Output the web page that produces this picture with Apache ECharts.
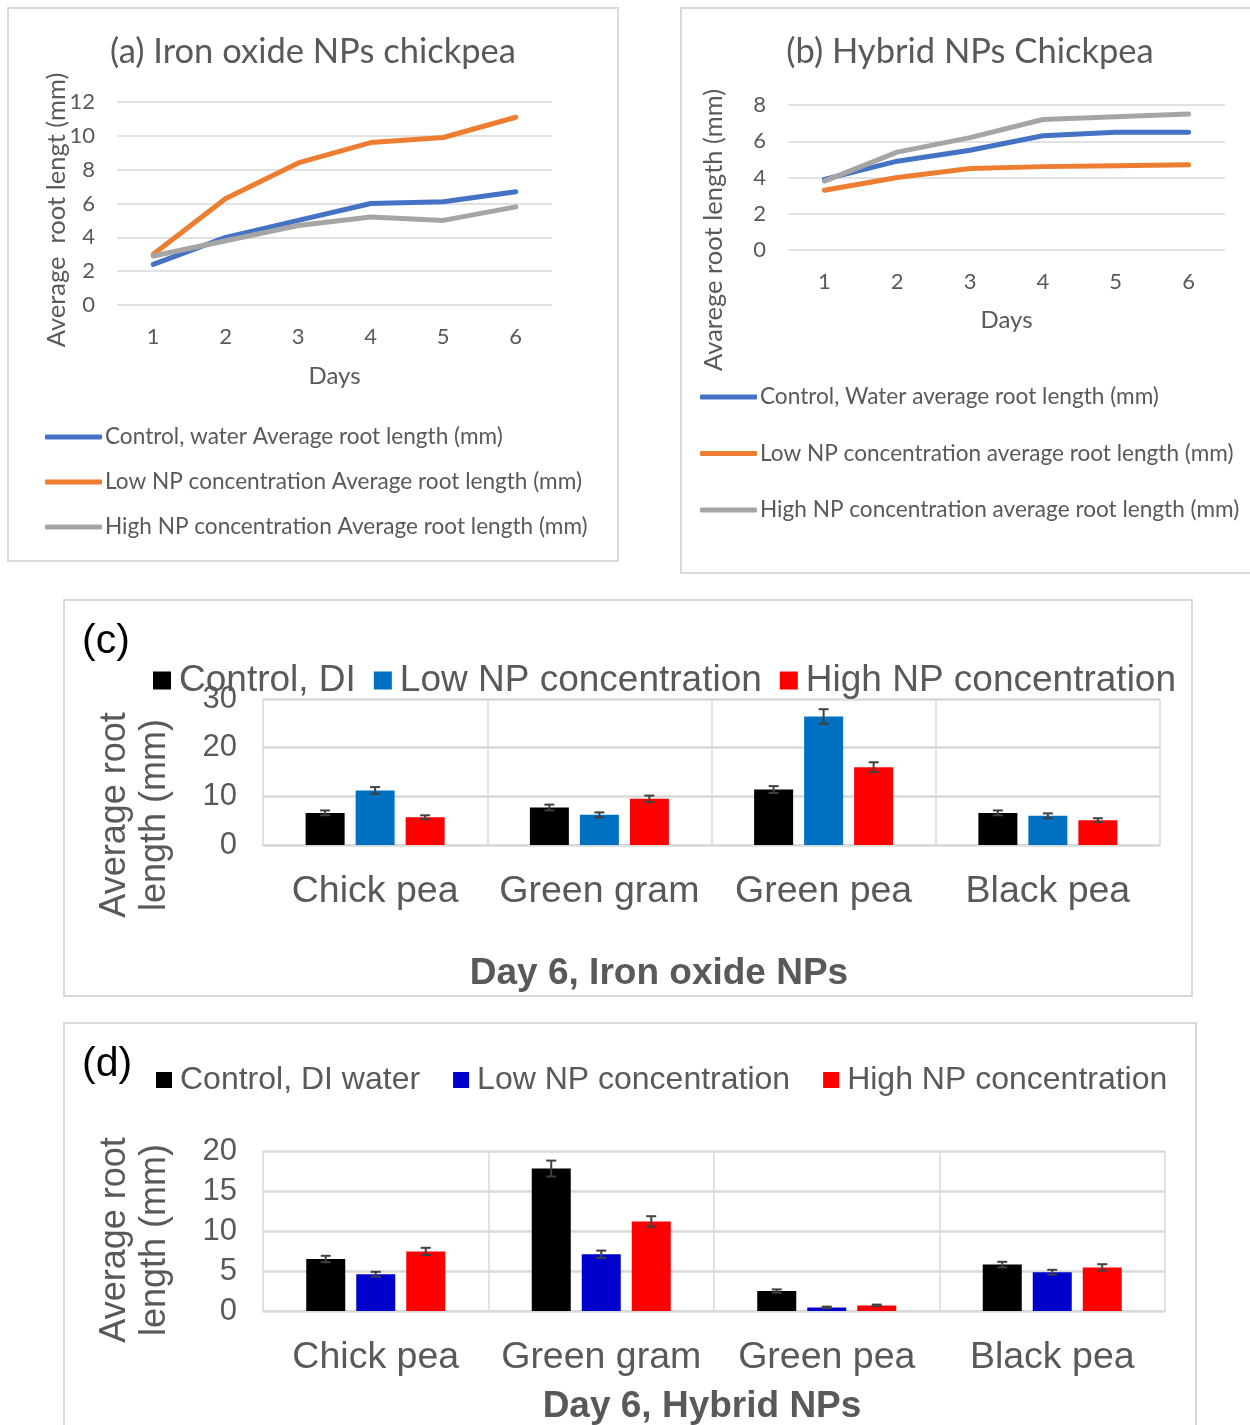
<!DOCTYPE html>
<html lang="en">
<head>
<meta charset="UTF-8">
<title>Root length charts</title>
<script src="https://cdn.jsdelivr.net/npm/echarts@6/dist/echarts.min.js"></script>
<style>
  body { margin: 0; background: #fff; width: 1250px; height: 1425px; position: relative; overflow: hidden; }
  .panel { position: absolute; border: 2px solid #d9d9d9; box-sizing: border-box; }
</style>
</head>
<body>
<div id="pa" class="panel" style="left:7px;top:7px;width:612px;height:555px"></div>
<div id="pb" class="panel" style="left:680px;top:7px;width:580px;height:567px"></div>
<div id="pc" class="panel" style="left:63px;top:599px;width:1130px;height:398px"></div>
<div id="pd" class="panel" style="left:63px;top:1022px;width:1134px;height:420px"></div>
<script>
// data
const days = ['1', '2', '3', '4', '5', '6'];
const aControl = [2.4, 4.0, 5.0, 6.0, 6.1, 6.7];
const aLow = [3.0, 6.3, 8.4, 9.6, 9.9, 11.1];
const aHigh = [2.9, 3.8, 4.7, 5.2, 5.0, 5.8];
const bControl = [3.9, 4.9, 5.5, 6.3, 6.5, 6.5];
const bLow = [3.3, 4.0, 4.5, 4.6, 4.65, 4.7];
const bHigh = [3.8, 5.4, 6.2, 7.2, 7.35, 7.5];

const plants = ['Chick pea', 'Green gram', 'Green pea', 'Black pea'];
const cControl = [6.6, 7.7, 11.4, 6.6];
const cControlErr = [0.5, 0.6, 0.7, 0.5];
const cLow = [11.2, 6.2, 26.4, 6.0];
const cLowErr = [0.7, 0.5, 1.5, 0.5];
const cHigh = [5.7, 9.5, 16.0, 5.1];
const cHighErr = [0.4, 0.65, 1.0, 0.4];

const dControl = [6.5, 17.8, 2.5, 5.8];
const dControlErr = [0.4, 1.0, 0.2, 0.35];
const dLow = [4.6, 7.1, 0.45, 4.85];
const dLowErr = [0.3, 0.45, 0.1, 0.3];
const dHigh = [7.45, 11.2, 0.7, 5.45];
const dHighErr = [0.45, 0.65, 0.1, 0.4];

const grey = '#595959';
const gridCol = '#d9d9d9';
const cal = 'Lato';
const ari = '"Liberation Sans", Arial, sans-serif';

function lineChart(el, o) {
  const chart = echarts.init(document.getElementById(el));
  chart.setOption({
    animation: false,
    title: { text: o.title, left: 'center', top: 25, padding: 0,
      textStyle: { fontFamily: cal, fontSize: 34.5, fontWeight: 'normal', color: grey } },
    legend: {
      orient: 'vertical', left: o.legLeft, top: o.legTop, padding: 0, itemGap: o.legGap,
      itemWidth: 57, itemHeight: 5, icon: 'roundRect',
      textStyle: { fontFamily: cal, fontSize: 22.6, color: grey, lineHeight: 24, padding: [0, 0, 0, -2] }
    },
    grid: o.grid,
    xAxis: {
      type: 'category', data: days,
      name: 'Days', nameLocation: 'middle', nameGap: o.nameGap,
      nameTextStyle: { fontFamily: cal, fontSize: 24, color: grey },
      axisLine: { show: false }, axisTick: { show: false },
      axisLabel: { fontFamily: cal, fontSize: 22, color: grey, margin: 21 }
    },
    yAxis: {
      type: 'value', min: 0, max: o.max, interval: 2,
      axisLabel: { fontFamily: cal, fontSize: 22, color: grey, margin: 22 },
      splitLine: { lineStyle: { color: gridCol, width: 1.5 } }
    },
    graphic: [{
      type: 'text', x: o.yName[0], y: o.yName[1], rotation: Math.PI / 2,
      style: { text: o.yName[2], font: '25.5px ' + cal, fill: grey, align: 'center', verticalAlign: 'middle' }
    }],
    series: o.series.map(s => ({
      type: 'line', name: s[0], data: s[1], symbol: 'none',
      itemStyle: { color: s[2] },
      lineStyle: { color: s[2], width: 5, cap: 'round', join: 'round' }
    }))
  });
}

lineChart('pa', {
  title: '(a) Iron oxide NPs chickpea',
  grid: { left: 108, top: 93, width: 435, height: 203 },
  max: 12, nameGap: 59,
  legLeft: 36, legTop: 416, legGap: 21,
  yName: [48, 201, 'Average  root lengt (mm)'],
  series: [
    ['Control, water Average root length (mm)', aControl, '#4472c4'],
    ['Low NP concentration Average root length (mm)', aLow, '#ed7d31'],
    ['High NP concentration Average root length (mm)', aHigh, '#a5a5a5']
  ]
});

lineChart('pb', {
  title: '(b) Hybrid NPs Chickpea',
  grid: { left: 106, top: 96, width: 437, height: 145 },
  max: 8, nameGap: 58,
  legLeft: 18, legTop: 376, legGap: 32.5,
  yName: [32, 221, 'Avarege root length (mm)'],
  series: [
    ['Control, Water average root length (mm)', bControl, '#4472c4'],
    ['Low NP concentration average root length (mm)', bLow, '#ed7d31'],
    ['High NP concentration average root length (mm)', bHigh, '#a5a5a5']
  ]
});

const barW = 39, barGapPx = 11;

function errSeries(vals, errs, idx) {
  const off = (idx - 1) * (barW + barGapPx);
  return {
    type: 'custom', silent: true, z: 5,
    data: vals.map((v, i) => [i, v, errs[i]]),
    renderItem: (params, api) => {
      const i = api.value(0), v = api.value(1), e = api.value(2);
      const x = api.coord([i, v])[0] + off;
      const hi = api.coord([i, v + e])[1];
      const lo = api.coord([i, v - e])[1];
      const st = { stroke: '#404040', lineWidth: 2 };
      return { type: 'group', children: [
        { type: 'line', shape: { x1: x, y1: hi, x2: x, y2: lo }, style: st },
        { type: 'line', shape: { x1: x - 5, y1: hi, x2: x + 5, y2: hi }, style: st },
        { type: 'line', shape: { x1: x - 5, y1: lo, x2: x + 5, y2: lo }, style: st }
      ] };
    }
  };
}

function barChart(el, o) {
  const chart = echarts.init(document.getElementById(el));
  const bars = o.series.map(s => ({
    type: 'bar', name: s[0], data: s[1], barWidth: barW, barGap: (barGapPx / barW * 100) + '%',
    itemStyle: { color: s[3] }
  }));
  const errs = o.series.map((s, k) => errSeries(s[1], s[2], k));
  chart.setOption({
    animation: false,
    legend: {
      left: o.legLeft, top: o.legTop, width: 1200, padding: 0, itemGap: o.legGap,
      itemWidth: o.icon, itemHeight: o.icon, icon: 'rect',
      data: o.series.map(s => s[0]),
      textStyle: { fontFamily: ari, fontSize: o.legFont, color: grey, padding: [0, 0, 0, 3] }
    },
    grid: o.grid,
    xAxis: {
      type: 'category', data: plants,
      axisLine: { lineStyle: { color: gridCol, width: 2 } },
      axisTick: { show: false },
      splitLine: { show: true, interval: 0, lineStyle: { color: gridCol, width: 1.5 } },
      axisLabel: { fontFamily: ari, fontSize: 37.5, color: grey, margin: 28, interval: 0 }
    },
    yAxis: {
      type: 'value', min: 0, max: o.max, interval: o.step,
      axisLabel: { fontFamily: ari, fontSize: 31, color: grey, margin: 26 },
      splitLine: { lineStyle: { color: gridCol, width: 2.5 } }
    },
    graphic: [
      { type: 'text', x: 17, y: 41, style: { text: o.tag, font: '41px ' + ari, fill: '#000', verticalAlign: 'middle' } },
      { type: 'text', x: o.title[0], y: o.title[1], style: { text: o.title[2], font: 'bold 37px ' + ari, fill: grey, align: 'center', verticalAlign: 'middle' } },
      { type: 'text', x: 70, y: o.yNameY, rotation: Math.PI / 2,
        style: { text: 'Average root\nlength (mm)', font: '36px ' + ari, lineHeight: 40, fill: grey, align: 'center', verticalAlign: 'middle' } }
    ],
    series: bars.concat(errs)
  });
}

barChart('pc', {
  tag: '(c)',
  grid: { left: 198, top: 98, width: 897, height: 146 },
  max: 30, step: 10,
  legLeft: 88, legTop: 61, legGap: 18, legFont: 37, icon: 18,
  title: [594, 373, 'Day 6, Iron oxide NPs'],
  yNameY: 214,
  series: [
    ['Control, DI', cControl, cControlErr, '#000000'],
    ['Low NP concentration', cLow, cLowErr, '#0070c0'],
    ['High NP concentration', cHigh, cHighErr, '#ff0000']
  ]
});

barChart('pd', {
  tag: '(d)',
  grid: { left: 198, top: 127, width: 902, height: 160 },
  max: 20, step: 5,
  legLeft: 91, legTop: 40, legGap: 33, legFont: 32, icon: 16,
  title: [637, 383, 'Day 6, Hybrid NPs'],
  yNameY: 216,
  series: [
    ['Control, DI water', dControl, dControlErr, '#000000'],
    ['Low NP concentration', dLow, dLowErr, '#0000cc'],
    ['High NP concentration', dHigh, dHighErr, '#ff0000']
  ]
});
</script>
</body>
</html>
